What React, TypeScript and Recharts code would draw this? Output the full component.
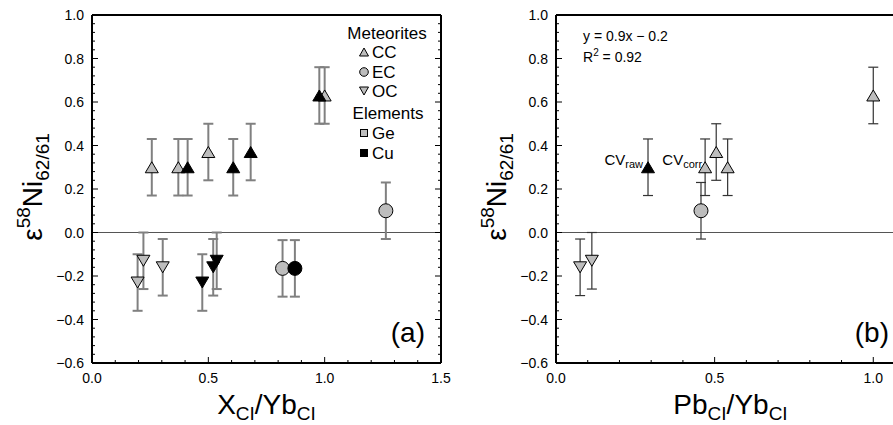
import React from 'react';
import { ScatterChart, Scatter, XAxis, YAxis, ErrorBar, ReferenceLine, ReferenceDot, Label } from 'recharts';

const FONT = '"Liberation Sans", Arial, Helvetica, sans-serif';
const GRAY = '#bdbdbd';
const BLACK = '#000000';

// ---------- Panel (a): X_CI / Yb_CI ----------
const aCcGeX = [0.257, 0.371, 0.5, 1.0];
const aCcGeY = [0.3, 0.3, 0.37, 0.63];
const aCcGeErr = [0.13, 0.13, 0.13, 0.13];
const aCcCuX = [0.411, 0.607, 0.682, 0.977];
const aCcCuY = [0.3, 0.3, 0.37, 0.63];
const aCcCuErr = [0.13, 0.13, 0.13, 0.13];
const aEcGeX = [0.819, 1.263];
const aEcGeY = [-0.165, 0.1];
const aEcGeErr = [0.13, 0.13];
const aEcCuX = [0.872];
const aEcCuY = [-0.165];
const aEcCuErr = [0.13];
const aOcGeX = [0.196, 0.221, 0.304];
const aOcGeY = [-0.23, -0.13, -0.16];
const aOcGeErr = [0.13, 0.13, 0.13];
const aOcCuX = [0.474, 0.521, 0.536];
const aOcCuY = [-0.23, -0.16, -0.13];
const aOcCuErr = [0.13, 0.13, 0.13];

// ---------- Panel (b): Pb_CI / Yb_CI ----------
const bOcX = [0.076, 0.113];
const bOcY = [-0.16, -0.13];
const bOcErr = [0.13, 0.13];
const bCvRawX = [0.29];
const bCvRawY = [0.3];
const bCvRawErr = [0.13];
const bEcX = [0.457];
const bEcY = [0.1];
const bEcErr = [0.13];
const bCcX = [0.47, 0.505, 0.541, 1.0];
const bCcY = [0.3, 0.37, 0.3, 0.63];
const bCcErr = [0.13, 0.13, 0.13, 0.13];

// ---------- Legend / labels ----------
const legendGroups = ['Meteorites', 'Elements'];
const meteoriteItems = ['CC', 'EC', 'OC'];
const elementItems = ['Ge', 'Cu'];

// ---------- Axes ----------
const yDomain = [-0.6, 1.0];
const yMajor = [-0.6, -0.4, -0.2, 0, 0.2, 0.4, 0.6, 0.8, 1.0];
const xDomainA = [0, 1.5];
const xMajorA = [0, 0.5, 1.0, 1.5];
const xDomainB = [0, 1.1];
const xMajorB = [0, 0.5, 1.0];

const range = (a: number, b: number, step: number) => {
  const out: number[] = [];
  const n = Math.round((b - a) / step);
  for (let i = 0; i <= n; i++) out.push(+(a + i * step).toFixed(4));
  return out;
};
const yTicks = range(-0.6, 1.0, 0.04);
const xTicksA = range(0, 1.5, 0.1);
const xTicksB = range(0, 1.1, 0.1);

const pts = (xs: number[], ys: number[], es: number[]) => xs.map((x, i) => ({ x, y: ys[i], err: es[i] }));
const fmt = (v: number) => (v < -1e-9 ? '\u2212' : '') + Math.abs(v).toFixed(1);

const triUp = (fill: string) => (p: any) => {
  const { cx, cy } = p;
  return <path d={`M${cx},${cy - 5.5}L${cx + 6.5},${cy + 5.5}L${cx - 6.5},${cy + 5.5}Z`} fill={fill} stroke="#000" strokeWidth={1} />;
};
const triDown = (fill: string) => (p: any) => {
  const { cx, cy } = p;
  return <path d={`M${cx},${cy + 5.5}L${cx + 6.5},${cy - 5.5}L${cx - 6.5},${cy - 5.5}Z`} fill={fill} stroke="#000" strokeWidth={1} />;
};
const circ = (fill: string) => (p: any) => <circle cx={p.cx} cy={p.cy} r={7} fill={fill} stroke="#000" strokeWidth={1} />;

const tickFn = (orient: string, majors: number[], showLabel: boolean) => (p: any) => {
  const { x, y, payload } = p;
  const v = payload.value;
  const major = majors.some((m) => Math.abs(m - v) < 1e-6);
  const len = major ? 6 : 3;
  let ln: any;
  if (orient === 'bottom') ln = { x1: x, y1: y, x2: x, y2: y - len };
  else if (orient === 'top') ln = { x1: x, y1: y, x2: x, y2: y + len };
  else if (orient === 'left') ln = { x1: x, y1: y, x2: x + len, y2: y };
  else ln = { x1: x, y1: y, x2: x - len, y2: y };
  let label: any = null;
  if (showLabel && major) {
    if (orient === 'bottom')
      label = (
        <text x={x} y={y + 20} textAnchor="middle" fontFamily={FONT} fontSize={14} fill="#000">
          {fmt(v)}
        </text>
      );
    else
      label = (
        <text x={x - 8} y={y + 5} textAnchor="end" fontFamily={FONT} fontSize={14} fill="#000">
          {fmt(v)}
        </text>
      );
  }
  return (
    <g>
      <line {...ln} stroke="#000" strokeWidth={1} />
      {label}
    </g>
  );
};

const axisStyle = { stroke: '#000', strokeWidth: 2 };

const yTitle = (p: any) => {
  const vb = p.viewBox;
  const bx = vb.x + vb.width - 50;
  const cy = vb.y + vb.height / 2 - 2;
  return (
    <text transform={`translate(${bx},${cy}) rotate(-90)`} textAnchor="middle" fontFamily={FONT} fontSize={28} fill="#000">
      <tspan fill="#000">ε</tspan>
      <tspan fill="#000" fontSize={19} dy={-12}>58</tspan>
      <tspan fill="#000" dy={12}>Ni</tspan>
      <tspan fill="#000" fontSize={19} dy={7}>62/61</tspan>
    </text>
  );
};

const xTitle = (main: string) => (p: any) => {
  const vb = p.viewBox;
  return (
    <text x={vb.x + vb.width / 2} y={vb.y + 51} textAnchor="middle" fontFamily={FONT} fontSize={28} fill="#000">
      <tspan fill="#000">{main}</tspan>
      <tspan fill="#000" fontSize={19} dy={6}>CI</tspan>
      <tspan fill="#000" dy={-6}>/Yb</tspan>
      <tspan fill="#000" fontSize={19} dy={6}>CI</tspan>
    </text>
  );
};

const panelTag = (tag: string) => (p: any) => {
  const vb = p.viewBox;
  return (
    <text x={vb.x - 16} y={vb.y + vb.height - 21} textAnchor="end" fontFamily={FONT} fontSize={28} fill="#000">
      {tag}
    </text>
  );
};

// legend drawn inside the plot, positioned from the right axis box
const legendA = (p: any) => {
  const vb = p.viewBox;
  const right = vb.x; // plot right edge
  const top = vb.y; // plot top edge
  const mx = right - 77;
  const tx = right - 69;
  const cxTitle = right - 54;
  const rowY = [18, 37, 57, 76, 98, 118, 138];
  const txt = (y: number, s: string) => (
    <text x={tx} y={top + y + 6} fontFamily={FONT} fontSize={17} fill="#000">
      {s}
    </text>
  );
  const ys = (i: number) => top + rowY[i];
  return (
    <g>
      <text x={cxTitle} y={top + rowY[0] + 6} textAnchor="middle" fontFamily={FONT} fontSize={17} fill="#000">
        {legendGroups[0]}
      </text>
      <path d={`M${mx},${ys(1) - 4}L${mx + 4.5},${ys(1) + 4}L${mx - 4.5},${ys(1) + 4}Z`} fill={GRAY} stroke="#000" strokeWidth={1} />
      {txt(rowY[1], meteoriteItems[0])}
      <circle cx={mx} cy={ys(2)} r={4.3} fill={GRAY} stroke="#000" strokeWidth={1} />
      {txt(rowY[2], meteoriteItems[1])}
      <path d={`M${mx},${ys(3) + 4}L${mx + 4.5},${ys(3) - 4}L${mx - 4.5},${ys(3) - 4}Z`} fill={GRAY} stroke="#000" strokeWidth={1} />
      {txt(rowY[3], meteoriteItems[2])}
      <text x={cxTitle + 1} y={top + rowY[4] + 6} textAnchor="middle" fontFamily={FONT} fontSize={17} fill="#000">
        {legendGroups[1]}
      </text>
      <rect x={mx - 3.5} y={ys(5) - 3.5} width={7} height={7} fill={GRAY} stroke="#000" strokeWidth={1} />
      {txt(rowY[5], elementItems[0])}
      <rect x={mx - 3.5} y={ys(6) - 3.5} width={7} height={7} fill={BLACK} stroke="#000" strokeWidth={1} />
      {txt(rowY[6], elementItems[1])}
    </g>
  );
};

const equation = (p: any) => {
  const vb = p.viewBox;
  const x0 = vb.x + vb.width + 27;
  return (
    <g>
      <text x={x0} y={vb.y + 26} fontFamily={FONT} fontSize={14} fill="#000">
        y = 0.9x − 0.2
      </text>
      <text x={x0} y={vb.y + 47} fontFamily={FONT} fontSize={14} fill="#000">
        <tspan fill="#000">R</tspan>
        <tspan fill="#000" fontSize={10} dy={-6}>2</tspan>
        <tspan fill="#000" dy={6}> = 0.92</tspan>
      </text>
    </g>
  );
};

const cvLabel = (main: string, sub: string, gap: number) => (p: any) => {
  const vb = p.viewBox || {};
  const cx = (vb.x ?? 0) + (vb.width ?? 0) / 2;
  const cy = (vb.y ?? 0) + (vb.height ?? 0) / 2;
  return (
    <text x={cx - gap} y={cy - 2} textAnchor="end" fontFamily={FONT} fontSize={15} fill="#000">
      <tspan fill="#000">{main}</tspan>
      <tspan fill="#000" fontSize={11} dy={3}>{sub}</tspan>
    </text>
  );
};

const MARGIN = { top: 14, right: 18, bottom: 32, left: 52 };

export default function App() {
  const errA = { stroke: '#808080', strokeWidth: 2, width: 5 };
  const errB = { stroke: '#333333', strokeWidth: 1.2, width: 5 };
  return (
    <div style={{ position: 'absolute', left: 0, top: 0, width: 893, height: 425, overflow: 'hidden', background: '#fff' }}>
      <div style={{ position: 'absolute', left: 0, top: 0 }}>
        <ScatterChart width={460} height={425} margin={MARGIN}>
          <XAxis xAxisId={0} type="number" dataKey="x" domain={xDomainA} ticks={xTicksA} interval={0} allowDataOverflow height={30}
            tickSize={0} tickMargin={0} tickLine={false} axisLine={axisStyle} tick={tickFn('bottom', xMajorA, true)}>
            <Label content={xTitle('X')} />
          </XAxis>
          <XAxis xAxisId="t" orientation="top" type="number" domain={xDomainA} ticks={xTicksA} interval={0} allowDataOverflow height={1}
            tickSize={0} tickMargin={0} tickLine={false} axisLine={axisStyle} tick={tickFn('top', xMajorA, false)} />
          <YAxis yAxisId={0} type="number" dataKey="y" domain={yDomain} ticks={yTicks} interval={0} allowDataOverflow width={40}
            tickSize={0} tickMargin={0} tickLine={false} axisLine={axisStyle} tick={tickFn('left', yMajor, true)}>
            <Label content={yTitle} />
          </YAxis>
          <YAxis yAxisId="r" orientation="right" type="number" domain={yDomain} ticks={yTicks} interval={0} allowDataOverflow width={1}
            tickSize={0} tickMargin={0} tickLine={false} axisLine={axisStyle} tick={tickFn('right', yMajor, false)}>
            <Label content={panelTag('(a)')} />
            <Label content={legendA} />
          </YAxis>
          <ReferenceLine y={0} stroke="#555" strokeWidth={1.2} />
          <Scatter name="CC Ge" data={pts(aCcGeX, aCcGeY, aCcGeErr)} shape={triUp(GRAY)} isAnimationActive={false}>
            <ErrorBar dataKey="err" direction="y" {...errA} />
          </Scatter>
          <Scatter name="EC Ge" data={pts(aEcGeX, aEcGeY, aEcGeErr)} shape={circ(GRAY)} isAnimationActive={false}>
            <ErrorBar dataKey="err" direction="y" {...errA} />
          </Scatter>
          <Scatter name="OC Ge" data={pts(aOcGeX, aOcGeY, aOcGeErr)} shape={triDown(GRAY)} isAnimationActive={false}>
            <ErrorBar dataKey="err" direction="y" {...errA} />
          </Scatter>
          <Scatter name="CC Cu" data={pts(aCcCuX, aCcCuY, aCcCuErr)} shape={triUp(BLACK)} isAnimationActive={false}>
            <ErrorBar dataKey="err" direction="y" {...errA} />
          </Scatter>
          <Scatter name="EC Cu" data={pts(aEcCuX, aEcCuY, aEcCuErr)} shape={circ(BLACK)} isAnimationActive={false}>
            <ErrorBar dataKey="err" direction="y" {...errA} />
          </Scatter>
          <Scatter name="OC Cu" data={pts(aOcCuX, aOcCuY, aOcCuErr)} shape={triDown(BLACK)} isAnimationActive={false}>
            <ErrorBar dataKey="err" direction="y" {...errA} />
          </Scatter>
        </ScatterChart>
      </div>
      <div style={{ position: 'absolute', left: 464, top: 0 }}>
        <ScatterChart width={460} height={425} margin={MARGIN}>
          <XAxis xAxisId={0} type="number" dataKey="x" domain={xDomainB} ticks={xTicksB} interval={0} allowDataOverflow height={30}
            tickSize={0} tickMargin={0} tickLine={false} axisLine={axisStyle} tick={tickFn('bottom', xMajorB, true)}>
            <Label content={xTitle('Pb')} />
          </XAxis>
          <XAxis xAxisId="t" orientation="top" type="number" domain={xDomainB} ticks={xTicksB} interval={0} allowDataOverflow height={1}
            tickSize={0} tickMargin={0} tickLine={false} axisLine={axisStyle} tick={tickFn('top', xMajorB, false)} />
          <YAxis yAxisId={0} type="number" dataKey="y" domain={yDomain} ticks={yTicks} interval={0} allowDataOverflow width={40}
            tickSize={0} tickMargin={0} tickLine={false} axisLine={axisStyle} tick={tickFn('left', yMajor, true)}>
            <Label content={yTitle} />
            <Label content={equation} />
          </YAxis>
          <YAxis yAxisId="r" orientation="right" type="number" domain={yDomain} ticks={yTicks} interval={0} allowDataOverflow width={1}
            tickSize={0} tickMargin={0} tickLine={false} axisLine={axisStyle} tick={tickFn('right', yMajor, false)}>
            <Label content={panelTag('(b)')} />
          </YAxis>
          <ReferenceLine y={0} stroke="#555" strokeWidth={1.2} />
          <Scatter name="OC" data={pts(bOcX, bOcY, bOcErr)} shape={triDown(GRAY)} isAnimationActive={false}>
            <ErrorBar dataKey="err" direction="y" {...errB} />
          </Scatter>
          <Scatter name="EC" data={pts(bEcX, bEcY, bEcErr)} shape={circ(GRAY)} isAnimationActive={false}>
            <ErrorBar dataKey="err" direction="y" {...errB} />
          </Scatter>
          <Scatter name="CC" data={pts(bCcX, bCcY, bCcErr)} shape={triUp(GRAY)} isAnimationActive={false}>
            <ErrorBar dataKey="err" direction="y" {...errB} />
          </Scatter>
          <Scatter name="CV raw" data={pts(bCvRawX, bCvRawY, bCvRawErr)} shape={triUp(BLACK)} isAnimationActive={false}>
            <ErrorBar dataKey="err" direction="y" {...errB} />
          </Scatter>
          <ReferenceDot x={bCvRawX[0]} y={bCvRawY[0]} r={1} fill="none" stroke="none" label={{ content: cvLabel('CV', 'raw', 5) }} />
          <ReferenceDot x={bCcX[0]} y={bCcY[0]} r={1} fill="none" stroke="none" label={{ content: cvLabel('CV', 'corr', 3) }} />
        </ScatterChart>
      </div>
    </div>
  );
}
